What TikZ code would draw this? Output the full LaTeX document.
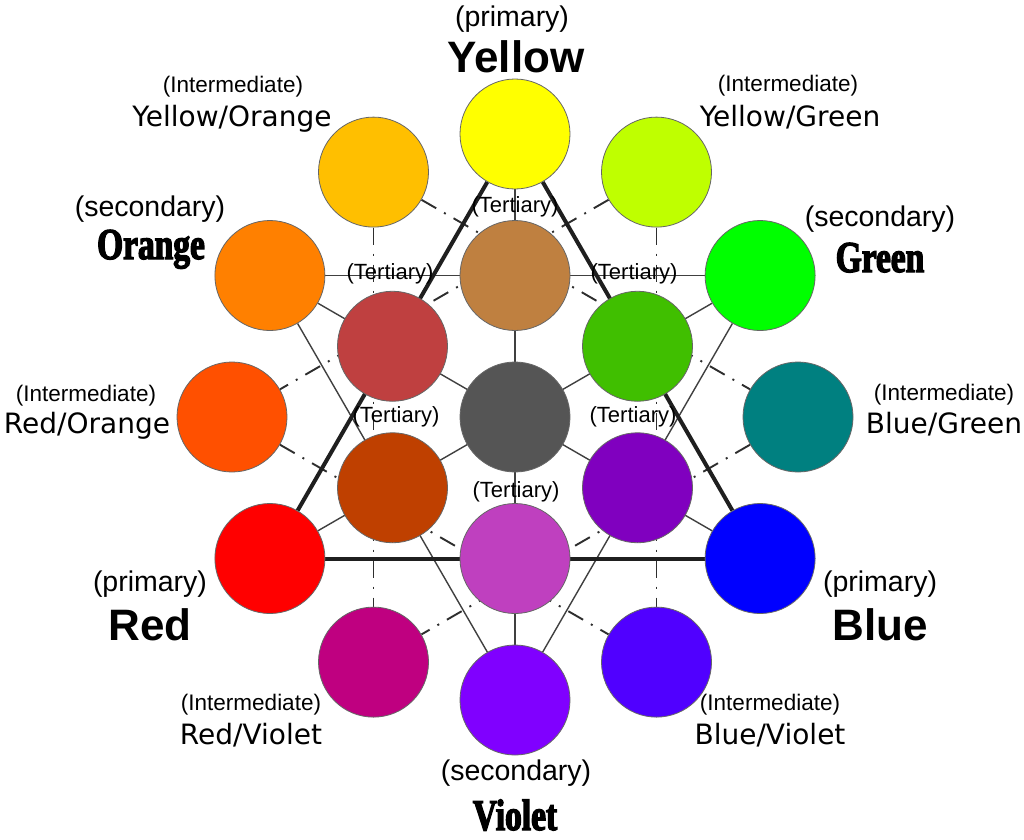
\documentclass[tikz,border=0pt]{standalone}
\usepackage{fontspec}
\setmainfont{Liberation Sans}
\newfontfamily\comicf{DejaVu Sans}
\newfontfamily\condf[FakeStretch=0.76,FakeBold=3]{Liberation Serif Bold}
\pgfdeclarelayer{bg}
\pgfsetlayers{bg,main}
\definecolor{cY}{HTML}{FFFF00}
\definecolor{cYO}{HTML}{FFBF00}
\definecolor{cYG}{HTML}{BFFF00}
\definecolor{cO}{HTML}{FF8000}
\definecolor{cG}{HTML}{00FF00}
\definecolor{cRO}{HTML}{FF5000}
\definecolor{cBG}{HTML}{008080}
\definecolor{cR}{HTML}{FF0000}
\definecolor{cB}{HTML}{0000FF}
\definecolor{cRV}{HTML}{BF0080}
\definecolor{cBV}{HTML}{5000FF}
\definecolor{cV}{HTML}{8000FF}
\definecolor{tBr}{HTML}{BF8040}
\definecolor{tRB}{HTML}{BF4040}
\definecolor{tGr}{HTML}{40BF00}
\definecolor{tGy}{HTML}{555555}
\definecolor{tRu}{HTML}{BF4000}
\definecolor{tPu}{HTML}{8000BF}
\definecolor{tOr}{HTML}{BF40BF}
\tikzset{
 circ/.style={circle, minimum size=110pt, inner sep=0pt, draw=black!60, line width=0.8pt},
 paren/.style={anchor=base, inner sep=0pt, font=\fontsize{28.5}{30}\selectfont},
 interm/.style={anchor=base, inner sep=0pt, font=\fontsize{22.5}{24}\selectfont},
 tert/.style={anchor=base, inner sep=0pt, font=\fontsize{22}{23}\selectfont},
 comic/.style={anchor=base, inner sep=0pt, font=\comicf\fontsize{28}{30}\selectfont},
 prim/.style={anchor=base, inner sep=0pt, font=\bfseries\fontsize{44}{46}\selectfont},
 cond/.style={anchor=base, inner sep=0pt, font=\condf\fontsize{44}{46}\selectfont},
 thickline/.style={line width=4pt, draw=black!88},
 thinline/.style={line width=1.4pt, draw=black!75},
 dashdotline/.style={line width=1.9pt, draw=black!82, dash pattern=on 17pt off 9pt on 2pt off 9pt},
}
\begin{document}
\begin{tikzpicture}[x=1pt,y=-1pt]
\useasboundingbox (0,0) rectangle (1024,839);
% outer ring
\node[circ, fill=cY]  (Y)  at (515,134) {};
\node[circ, fill=cYG] (YG) at (656.5,172.1) {};
\node[circ, fill=cG]  (G)  at (760.1,275.5) {};
\node[circ, fill=cBG] (BG) at (798,417) {};
\node[circ, fill=cB]  (B)  at (760.1,558.5) {};
\node[circ, fill=cBV] (BV) at (656.5,662.1) {};
\node[circ, fill=cV]  (V)  at (515,700) {};
\node[circ, fill=cRV] (RV) at (373.5,662.1) {};
\node[circ, fill=cR]  (R)  at (269.9,558.5) {};
\node[circ, fill=cRO] (RO) at (232,417) {};
\node[circ, fill=cO]  (O)  at (269.9,275.5) {};
\node[circ, fill=cYO] (YO) at (373.5,172.1) {};
% inner ring
\node[circ, fill=tBr] (TBr) at (515,275.5) {};
\node[circ, fill=tRB] (TRB) at (392.5,346.25) {};
\node[circ, fill=tGr] (TGr) at (637.5,346.25) {};
\node[circ, fill=tGy] (TGy) at (515,417) {};
\node[circ, fill=tRu] (TRu) at (392.5,487.75) {};
\node[circ, fill=tPu] (TPu) at (637.5,487.75) {};
\node[circ, fill=tOr] (TOr) at (515,558.5) {};
% connectors
\begin{pgfonlayer}{bg}
\fill[white] (0,0) rectangle (1024,839);
\draw[dashdotline] (YO) -- (BG);
\draw[dashdotline] (BG) -- (RV);
\draw[dashdotline] (YO) -- (RV);
\draw[dashdotline] (YG) -- (RO);
\draw[dashdotline] (RO) -- (BV);
\draw[dashdotline] (YG) -- (BV);
\draw[thinline] (O) -- (G);
\draw[thinline] (G) -- (V);
\draw[thinline] (V) -- (O);
\draw[thinline] (Y) -- (V);
\draw[thinline] (O) -- (B);
\draw[thinline] (G) -- (R);
\draw[thickline] (Y) -- (R);
\draw[thickline] (R) -- (B);
\draw[thickline] (B) -- (Y);
\end{pgfonlayer}
% tertiary labels
\node[tert] (lt1) at (515,212.5) {(Tertiary)};
\node[tert] (lt2) at (390,279.5) {(Tertiary)};
\node[tert] (lt3) at (634,279.5) {(Tertiary)};
\node[tert] (lt4) at (396,422.5) {(Tertiary)};
\node[tert] (lt5) at (633,422.5) {(Tertiary)};
\node[tert] (lt6) at (516,497.5) {(Tertiary)};
% outer labels
\node[paren] (lYa) at (512,26) {(primary)};
\node[prim]  (lYb) at (516,72) {Yellow};
\node[interm] (lYOa) at (233,92) {(Intermediate)};
\node[comic]  (lYOb) at (232,126) {Yellow/Orange};
\node[interm] (lYGa) at (788,91) {(Intermediate)};
\node[comic]  (lYGb) at (790,126) {Yellow/Green};
\node[paren] (lOa) at (150,216) {(secondary)};
\node[cond]  (lOb) at (151,259) {Orange};
\node[paren] (lGa) at (880,226) {(secondary)};
\node[cond]  (lGb) at (880,272) {Green};
\node[interm] (lROa) at (86,401) {(Intermediate)};
\node[comic]  (lROb) at (87,433) {Red/Orange};
\node[interm] (lBGa) at (944,400) {(Intermediate)};
\node[comic]  (lBGb) at (944,433) {Blue/Green};
\node[paren] (lRa) at (150,591) {(primary)};
\node[prim]  (lRb) at (150,640) {Red};
\node[paren] (lBa) at (880,591) {(primary)};
\node[prim]  (lBb) at (880,640) {Blue};
\node[interm] (lRVa) at (251,710) {(Intermediate)};
\node[comic]  (lRVb) at (251,744) {Red/Violet};
\node[interm] (lBVa) at (770,710) {(Intermediate)};
\node[comic]  (lBVb) at (770,744) {Blue/Violet};
\node[paren] (lVa) at (516,780) {(secondary)};
\node[cond]  (lVb) at (515,830) {Violet};
\end{tikzpicture}
\end{document}
